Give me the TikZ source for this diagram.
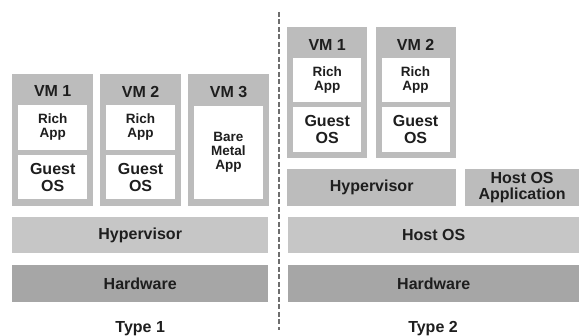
\documentclass[tikz,border=0pt]{standalone}
\usepackage{fontspec}
\setmainfont{Liberation Sans}
\usepackage{tikz}
\usetikzlibrary{positioning}

\definecolor{vmgray}{HTML}{BCBCBC}
\definecolor{barlight}{HTML}{C6C6C6}
\definecolor{bardark}{HTML}{A6A6A6}
\definecolor{ink}{HTML}{1E1E1E}
\definecolor{dashgray}{HTML}{6E6E6E}

\begin{document}
\begin{tikzpicture}[x=1pt, y=1pt,
        vm box/.style = {fill=vmgray, inner sep=0pt, minimum width=81pt, minimum height=132pt},
        title/.style = {inner sep=0pt, text=ink, font=\bfseries\fontsize{16}{17}\selectfont},
        app box/.style = {fill=white, inner sep=0pt, minimum width=69pt, minimum height=45pt, align=center, text=ink, font=\bfseries\fontsize{13.5}{14}\selectfont},
        os box/.style = {app box, minimum height=44pt, font=\bfseries\fontsize{16}{16.5}\selectfont},
        layer/.style = {fill=barlight, inner sep=0pt, minimum height=36pt, align=center, text=ink, font=\bfseries\fontsize{16}{16.5}\selectfont},
        hw layer/.style = {layer, fill=bardark, minimum height=37pt},
        divider/.style = {dashgray, line width=1.2pt, dash pattern=on 5pt off 2.5pt}
    ]

    \useasboundingbox (0,0) rectangle (579,336);

    % Type 1
    \node (hardware1) [hw layer, minimum width=256pt, anchor=south west] at (12,34) {Hardware};
    \node (hypervisor1) [layer, minimum width=256pt, above=11pt of hardware1] {Hypervisor};
    \node (vm1) [vm box, above right=11pt and 0pt of hypervisor1.north west] {};
    \node (vm2) [vm box, right=6.5pt of vm1] {};
    \node (vm3) [vm box, right=6.5pt of vm2] {};
    \node (vm1 title) [title, below=12pt of vm1.north] {VM 1};
    \node (vm2 title) [title, below=12pt of vm2.north] {VM 2};
    \node (vm3 title) [title, below=12pt of vm3.north] {VM 3};
    \node (rich1) [app box, below=31pt of vm1.north] {Rich\\App};
    \node (guest1) [os box, below=5pt of rich1] {Guest\\OS};
    \node (rich2) [app box, below=31pt of vm2.north] {Rich\\App};
    \node (guest2) [os box, below=5pt of rich2] {Guest\\OS};
    \node (bare3) [app box, minimum height=93pt, below=32pt of vm3.north] {Bare\\Metal\\App};
    \node (type1) [title, below=19pt of hardware1] {Type 1};

    % Type 2
    \node (hardware2) [hw layer, minimum width=291pt, anchor=south west] at (288,34) {Hardware};
    \node (hostos2) [layer, minimum width=291pt, above=11pt of hardware2] {Host OS};
    \node (hypervisor2) [layer, fill=vmgray, minimum width=169pt, minimum height=37pt, above right=11pt and -1pt of hostos2.north west] {Hypervisor};
    \node (hostapp2) [layer, fill=vmgray, minimum width=115pt, minimum height=37pt, right=8pt of hypervisor2] {Host OS\\Application};
    \node (vm4) [vm box, minimum width=80pt, minimum height=131pt, above right=11pt and 0pt of hypervisor2.north west] {};
    \node (vm5) [vm box, minimum width=80pt, minimum height=131pt, right=8pt of vm4] {};
    \node (vm4 title) [title, below=13pt of vm4.north] {VM 1};
    \node (vm5 title) [title, below=13pt of vm5.north] {VM 2};
    \node (rich4) [app box, minimum width=68pt, minimum height=44pt, below=31pt of vm4.north] {Rich\\App};
    \node (guest4) [os box, minimum width=68pt, minimum height=45pt, below=5pt of rich4] {Guest\\OS};
    \node (rich5) [app box, minimum width=68pt, minimum height=44pt, below=31pt of vm5.north] {Rich\\App};
    \node (guest5) [os box, minimum width=68pt, minimum height=45pt, below=5pt of rich5] {Guest\\OS};
    \node (type2) [title, below=19pt of hardware2.south west, xshift=145pt] {Type 2};

    % Divider
    \coordinate (divider top) at (279,324);
    \coordinate (divider bottom) at (279,6);
    \draw[divider] (divider top) -- (divider bottom);

\end{tikzpicture}
\end{document}
